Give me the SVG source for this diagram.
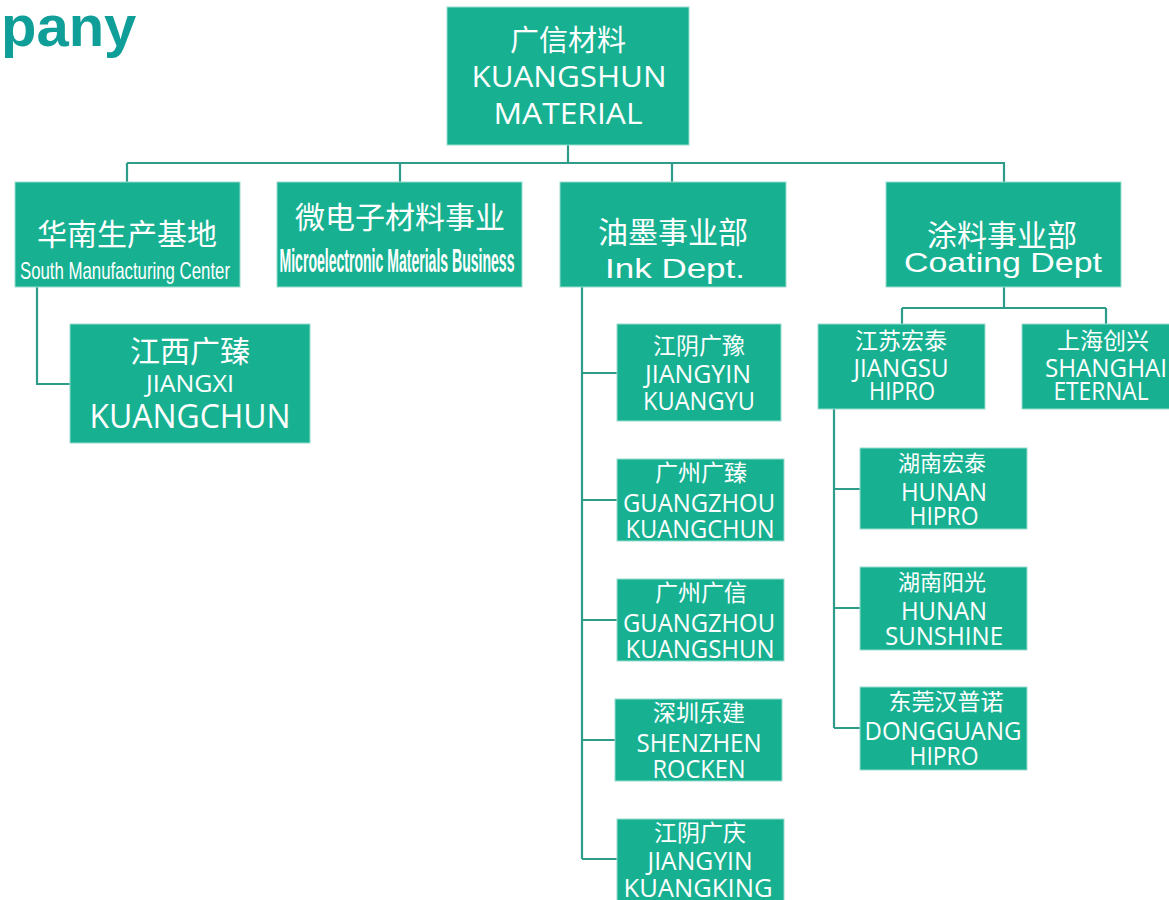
<svg xmlns="http://www.w3.org/2000/svg" width="1169" height="900" viewBox="0 0 1169 900">
<style>
.box{fill:#17b192;stroke:#9adccd;stroke-width:1}
.conn{stroke:#2e9c89;stroke-width:2.2;fill:none}
.cn{font-family:"Noto Sans CJK SC",sans-serif;fill:#fff;text-anchor:middle}
.en{font-family:"Open Sans","Noto Sans",sans-serif;fill:#fff;text-anchor:middle}
.ar{font-family:"Liberation Sans",Arial,sans-serif;fill:#fff;text-anchor:middle}
</style>
<rect width="1169" height="900" fill="#fff"/>
<text x="1" y="46" font-family="Liberation Sans,Arial,sans-serif" font-weight="bold" font-size="58" fill="#0f9e98">pany</text>

<g id="connectors">
<path class="conn" d="M568 145V163M127 163H1005M127 163V183M400 163V183M672 163V183M1004 163V183"/>
<path class="conn" d="M37 287V384H71"/>
<path class="conn" d="M582 287V859M582 373H617M582 500H617M582 620H617M582 740H615M582 859H617"/>
<path class="conn" d="M1004 287V308M902 308H1106M902 308V324M1106 308V324"/>
<path class="conn" d="M834 409V728M834 489H860M834 608H860M834 728H860"/>
</g>

<g id="n-root">
<rect class="box" x="447" y="7" width="242" height="138"/>
<text class="cn" x="568" y="51" font-size="29">广信材料</text>
<text class="en" x="569" y="87" font-size="30" textLength="195" lengthAdjust="spacingAndGlyphs">KUANGSHUN</text>
<text class="en" x="568" y="124" font-size="30" textLength="149" lengthAdjust="spacingAndGlyphs">MATERIAL</text>
</g>

<g id="n-south">
<rect class="box" x="15" y="182" width="225" height="105"/>
<text class="cn" x="127" y="245" font-size="30">华南生产基地</text>
<text class="ar" x="125" y="279" font-size="24" textLength="210" lengthAdjust="spacingAndGlyphs">South Manufacturing Center</text>
</g>

<g id="n-micro">
<rect class="box" x="277" y="182" width="245" height="105"/>
<text class="cn" x="400" y="228" font-size="30">微电子材料事业</text>
<text class="ar" x="397" y="272" font-size="34" font-weight="bold" textLength="235" lengthAdjust="spacingAndGlyphs">Microelectronic Materials Business</text>
</g>

<g id="n-ink">
<rect class="box" x="560" y="182" width="226" height="105"/>
<text class="cn" x="673" y="243" font-size="30">油墨事业部</text>
<text class="ar" x="675" y="278" font-size="27" textLength="140" lengthAdjust="spacingAndGlyphs">Ink Dept.</text>
</g>

<g id="n-coating">
<rect class="box" x="886" y="182" width="235" height="105"/>
<text class="cn" x="1002" y="246" font-size="30">涂料事业部</text>
<text class="ar" x="1003" y="272" font-size="28" textLength="198" lengthAdjust="spacingAndGlyphs">Coating Dept</text>
</g>

<g id="n-jiangxi">
<rect class="box" x="70" y="324" width="240" height="119"/>
<text class="cn" x="190" y="362" font-size="30">江西广臻</text>
<text class="en" x="190" y="392" font-size="24" textLength="88" lengthAdjust="spacingAndGlyphs">JIANGXI</text>
<text class="en" x="190" y="428" font-size="33" textLength="201" lengthAdjust="spacingAndGlyphs">KUANGCHUN</text>
</g>

<g id="n-jiangyin-yu">
<rect class="box" x="617" y="324" width="164" height="97"/>
<text class="cn" x="699" y="354" font-size="23">江阴广豫</text>
<text class="en" x="698" y="383" font-size="26" textLength="106" lengthAdjust="spacingAndGlyphs">JIANGYIN</text>
<text class="en" x="699" y="410" font-size="26" textLength="112" lengthAdjust="spacingAndGlyphs">KUANGYU</text>
</g>

<g id="n-gz-chun">
<rect class="box" x="617" y="459" width="167" height="82"/>
<text class="cn" x="701" y="481" font-size="23">广州广臻</text>
<text class="en" x="699" y="512" font-size="26" textLength="152" lengthAdjust="spacingAndGlyphs">GUANGZHOU</text>
<text class="en" x="700" y="538" font-size="26" textLength="149" lengthAdjust="spacingAndGlyphs">KUANGCHUN</text>
</g>

<g id="n-gz-shun">
<rect class="box" x="617" y="579" width="167" height="82"/>
<text class="cn" x="701" y="601" font-size="23">广州广信</text>
<text class="en" x="699" y="632" font-size="26" textLength="152" lengthAdjust="spacingAndGlyphs">GUANGZHOU</text>
<text class="en" x="700" y="658" font-size="26" textLength="149" lengthAdjust="spacingAndGlyphs">KUANGSHUN</text>
</g>

<g id="n-sz">
<rect class="box" x="615" y="699" width="167" height="82"/>
<text class="cn" x="699" y="721" font-size="23">深圳乐建</text>
<text class="en" x="699" y="752" font-size="26" textLength="125" lengthAdjust="spacingAndGlyphs">SHENZHEN</text>
<text class="en" x="699" y="778" font-size="26" textLength="93" lengthAdjust="spacingAndGlyphs">ROCKEN</text>
</g>

<g id="n-jiangyin-king">
<rect class="box" x="617" y="819" width="167" height="90"/>
<text class="cn" x="700" y="841" font-size="23">江阴广庆</text>
<text class="en" x="700" y="870" font-size="26" textLength="105" lengthAdjust="spacingAndGlyphs">JIANGYIN</text>
<text class="en" x="698" y="897" font-size="26" textLength="149" lengthAdjust="spacingAndGlyphs">KUANGKING</text>
</g>

<g id="n-jiangsu">
<rect class="box" x="818" y="324" width="167" height="85"/>
<text class="cn" x="901" y="349" font-size="23">江苏宏泰</text>
<text class="en" x="901" y="377" font-size="26" textLength="95" lengthAdjust="spacingAndGlyphs">JIANGSU</text>
<text class="en" x="902" y="400" font-size="26" textLength="66" lengthAdjust="spacingAndGlyphs">HIPRO</text>
</g>

<g id="n-shanghai">
<rect class="box" x="1022" y="324" width="168" height="85"/>
<text class="cn" x="1103" y="349" font-size="23">上海创兴</text>
<text class="en" x="1106" y="377" font-size="26" textLength="122" lengthAdjust="spacingAndGlyphs">SHANGHAI</text>
<text class="en" x="1101" y="400" font-size="26" textLength="95" lengthAdjust="spacingAndGlyphs">ETERNAL</text>
</g>

<g id="n-hunan-hipro">
<rect class="box" x="860" y="448" width="167" height="81"/>
<text class="cn" x="942" y="471" font-size="22">湖南宏泰</text>
<text class="en" x="944" y="501" font-size="26" textLength="86" lengthAdjust="spacingAndGlyphs">HUNAN</text>
<text class="en" x="944" y="525" font-size="26" textLength="69" lengthAdjust="spacingAndGlyphs">HIPRO</text>
</g>

<g id="n-hunan-sun">
<rect class="box" x="860" y="567" width="167" height="83"/>
<text class="cn" x="942" y="590" font-size="22">湖南阳光</text>
<text class="en" x="944" y="620" font-size="26" textLength="86" lengthAdjust="spacingAndGlyphs">HUNAN</text>
<text class="en" x="944" y="645" font-size="26" textLength="118" lengthAdjust="spacingAndGlyphs">SUNSHINE</text>
</g>

<g id="n-dongguan">
<rect class="box" x="860" y="687" width="167" height="83"/>
<text class="cn" x="946" y="710" font-size="23">东莞汉普诺</text>
<text class="en" x="943" y="740" font-size="26" textLength="157" lengthAdjust="spacingAndGlyphs">DONGGUANG</text>
<text class="en" x="944" y="765" font-size="26" textLength="69" lengthAdjust="spacingAndGlyphs">HIPRO</text>
</g>
</svg>
